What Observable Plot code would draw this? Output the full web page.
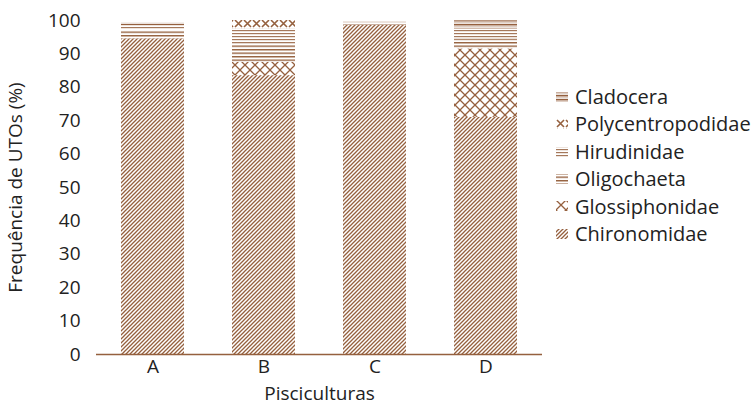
<!DOCTYPE html>
<html>
<head>
<meta charset="utf-8">
<script src="https://cdn.jsdelivr.net/npm/d3@7"></script>
<script src="https://cdn.jsdelivr.net/npm/@observablehq/plot@0.6"></script>
<style>
  html, body { margin: 0; padding: 0; background: #fff; }
  #wrap { position: relative; width: 756px; height: 405px; font-family: "Open Sans", sans-serif; color: #222; }
  #legend { position: absolute; left: 556px; top: 83px; font-size: 20px; line-height: 27.4px; }
  #legend .item { display: flex; align-items: center; white-space: nowrap; }
  #legend svg { margin-right: 5px; }
</style>
</head>
<body>
<div id="wrap"><div id="legend"></div></div>
<script>
const categories = ["A", "B", "C", "D"];
const seriesNames = ["Chironomidae", "Glossiphonidae", "Oligochaeta", "Hirudinidae", "Polycentropodidae", "Cladocera"];
const chironomidae      = [94.5, 83.5, 98.5, 71.0];
const glossiphonidae    = [0.0, 4.0, 0.0, 20.5];
const oligochaeta       = [2.5, 5.5, 0.5, 3.0];
const hirudinidae       = [1.5, 4.5, 0.3, 3.0];
const polycentropodidae = [0.0, 2.5, 0.0, 0.0];
const cladocera         = [0.7, 0.0, 0.2, 2.4];
const yTicks = [0, 10, 20, 30, 40, 50, 60, 70, 80, 90, 100];

const seriesValues = [chironomidae, glossiphonidae, oligochaeta, hirudinidae, polycentropodidae, cladocera];
const brown = "#95603e";
const patternIds = ["p-chir", "p-glos", "p-olig", "p-hiru", "p-poly", "p-clad"];
const patternUrls = patternIds.map(id => `url(#${id})`);

const data = [];
seriesNames.forEach((s, i) => {
  categories.forEach((c, j) => data.push({ cat: c, series: s, value: seriesValues[i][j] }));
});

const plot = Plot.plot({
  width: 550,
  height: 405,
  marginLeft: 96,
  marginRight: 8,
  marginTop: 20,
  marginBottom: 51,
  style: { fontFamily: "Open Sans, sans-serif", fontSize: "19px", color: "#222", background: "white" },
  x: { domain: categories, paddingInner: 0.43, paddingOuter: 0.215, label: null },
  y: { domain: [0, 100], label: null },
  color: { type: "ordinal", domain: seriesNames, range: patternUrls },
  marks: [
    Plot.barY(data, { x: "cat", y: "value", fill: "series", order: seriesNames }),
    Plot.ruleY([0], { stroke: brown, strokeWidth: 1.5 }),
    Plot.axisY({ ticks: yTicks, tickSize: 0, tickPadding: 16, label: "Frequência de UTOs (%)", labelAnchor: "center", labelArrow: "none", labelOffset: 88, fontSize: 19 }),
    Plot.axisX({ tickSize: 0, tickPadding: 5, label: "Pisciculturas", labelAnchor: "center", labelArrow: "none", labelOffset: 45, fontSize: 19 })
  ]
});

const ns = "http://www.w3.org/2000/svg";
const defsHtml = `
<pattern id="p-chir" patternUnits="userSpaceOnUse" width="4" height="4">
  <rect width="4" height="4" fill="white"/>
  <path d="M0,4 L4,0 M-1,1 L1,-1 M3,5 L5,3" stroke="${brown}" stroke-width="1.3"/>
</pattern>
<pattern id="p-glos" patternUnits="userSpaceOnUse" width="10" height="10">
  <rect width="10" height="10" fill="white"/>
  <path d="M0,0 L10,10 M10,0 L0,10" stroke="${brown}" stroke-width="1.3"/>
</pattern>
<pattern id="p-olig" patternUnits="userSpaceOnUse" width="6" height="3.5">
  <rect width="6" height="3.5" fill="white"/>
  <rect x="0" y="0" width="6" height="1.4" fill="${brown}"/>
</pattern>
<pattern id="p-hiru" patternUnits="userSpaceOnUse" width="6" height="3">
  <rect width="6" height="3" fill="white"/>
  <rect x="0" y="0" width="6" height="1.2" fill="${brown}" opacity="0.85"/>
</pattern>
<pattern id="p-poly" patternUnits="userSpaceOnUse" width="9" height="9" y="1">
  <rect width="9" height="9" fill="white"/>
  <path d="M1,1 L8,8 M8,1 L1,8" stroke="${brown}" stroke-width="1.6"/>
</pattern>
<pattern id="p-clad" patternUnits="userSpaceOnUse" width="6" height="4">
  <rect width="6" height="4" fill="white"/>
  <rect x="0" y="0" width="6" height="1.5" fill="${brown}"/>
  <rect x="0" y="2.5" width="6" height="0.8" fill="${brown}" opacity="0.6"/>
</pattern>`;
const defs = document.createElementNS(ns, "defs");
defs.innerHTML = defsHtml;
plot.insertBefore(defs, plot.firstChild);

const wrap = document.getElementById("wrap");
wrap.insertBefore(plot, wrap.firstChild);

const legend = document.getElementById("legend");
seriesNames.slice().reverse().forEach(s => {
  const i = seriesNames.indexOf(s);
  const item = document.createElement("div");
  item.className = "item";
  item.innerHTML = `<svg width="14" height="12"><rect width="12" height="10" y="1" fill="${patternUrls[i]}"/></svg><span>${s}</span>`;
  legend.appendChild(item);
});
</script>
</body>
</html>
